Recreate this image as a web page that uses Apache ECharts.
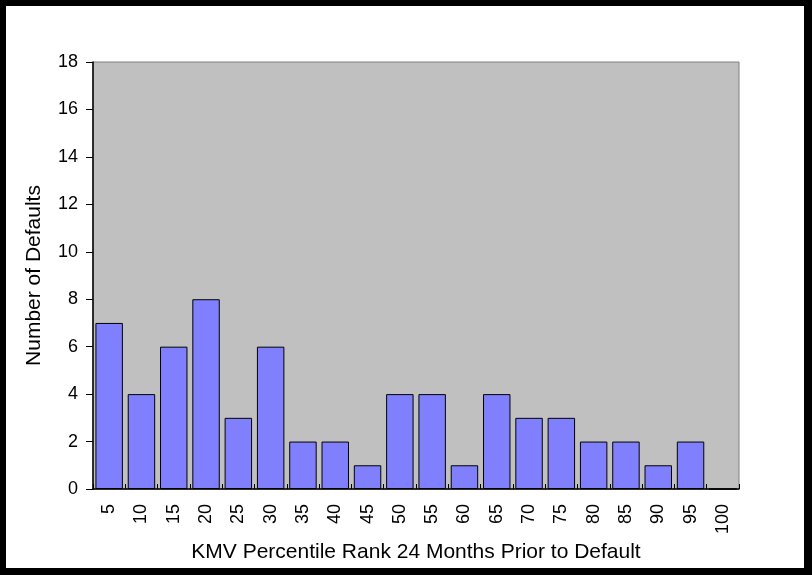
<!DOCTYPE html>
<html><head><meta charset="utf-8">
<script src="https://cdn.jsdelivr.net/npm/echarts@6/dist/echarts.min.js"></script>
<style>html,body{margin:0;padding:0;background:#fff}#c{width:812px;height:575px}</style>
</head><body><div id="c"></div>
<script>
var categories = ['5','10','15','20','25','30','35','40','45','50','55','60','65','70','75','80','85','90','95','100'];
var defaults = [7,4,6,8,3,6,2,2,1,4,4,1,4,3,3,2,2,1,2,0];
var yTicks = {min:0, max:18, interval:2};

var chart = echarts.init(document.getElementById('c'), null, {renderer:'canvas'});
var font = 'Liberation Sans, Arial, sans-serif';
chart.setOption({
  animation:false,
  backgroundColor:'#ffffff',
  grid:{left:93, right:73, top:62, bottom:86, show:true, backgroundColor:'#C0C0C0', borderColor:'#808080', borderWidth:1, containLabel:false},
  xAxis:{
    type:'category', data:categories,
    name:'KMV Percentile Rank 24 Months Prior to Default', nameLocation:'middle', nameGap:50,
    nameTextStyle:{color:'#000', fontSize:21, fontFamily:font},
    axisLine:{lineStyle:{color:'#000', width:1.5}},
    axisTick:{show:true, inside:true, length:5, alignWithLabel:false, lineStyle:{color:'#000'}},
    axisLabel:{rotate:90, color:'#000', fontSize:18, fontFamily:font, margin:15, interval:0},
    splitLine:{show:false}
  },
  yAxis:{
    type:'value', min:yTicks.min, max:yTicks.max, interval:yTicks.interval,
    name:'Number of Defaults', nameLocation:'middle', nameGap:48,
    nameTextStyle:{color:'#000', fontSize:21, fontFamily:font},
    axisLine:{show:true, lineStyle:{color:'#000', width:1.5}},
    axisTick:{show:true, length:7, lineStyle:{color:'#000'}},
    axisLabel:{color:'#000', fontSize:18, fontFamily:font, margin:15},
    splitLine:{show:false}
  },
  series:[{
    type:'bar', data:defaults, barCategoryGap:'15%',
    itemStyle:{color:'#8080FF', borderColor:'#000', borderWidth:1}
  }],
  graphic:[
    {type:'rect', shape:{x:0,y:0,width:812,height:6}, style:{fill:'#000'}},
    {type:'rect', shape:{x:0,y:568,width:812,height:7}, style:{fill:'#000'}},
    {type:'rect', shape:{x:0,y:0,width:6,height:575}, style:{fill:'#000'}},
    {type:'rect', shape:{x:804,y:0,width:8,height:575}, style:{fill:'#000'}}
  ]
});
</script></body></html>
